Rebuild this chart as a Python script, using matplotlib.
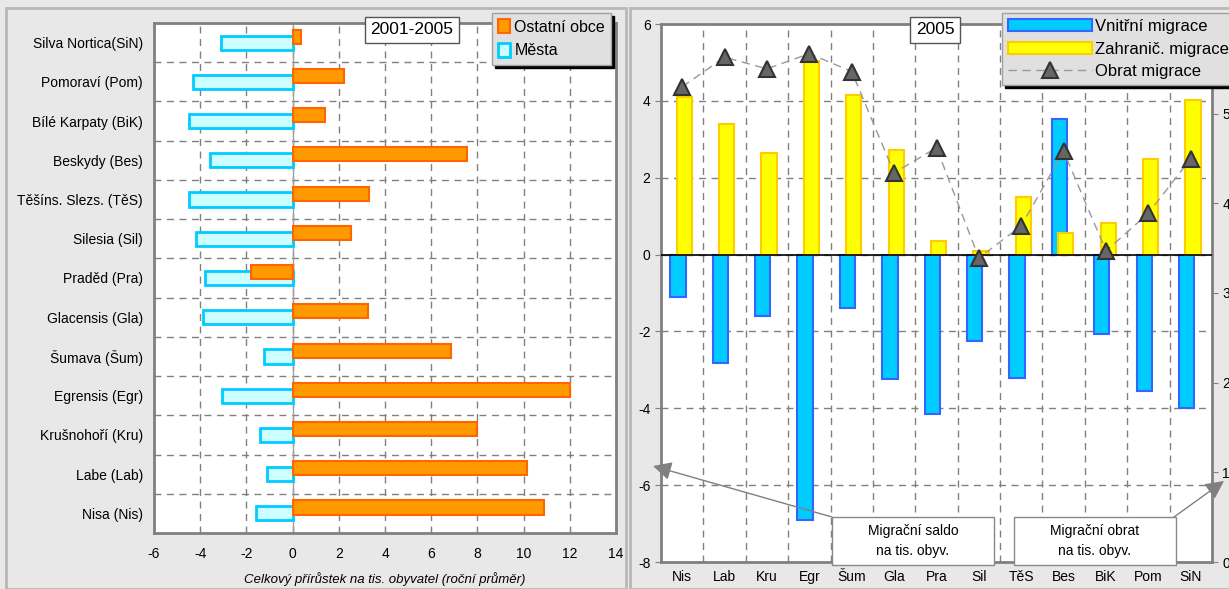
import matplotlib
matplotlib.use("Agg")
import matplotlib.pyplot as plt
from matplotlib.patches import Patch, Rectangle
from matplotlib.lines import Line2D
import numpy as np

plt.rcParams['font.family'] = ['Liberation Sans', 'DejaVu Sans']
plt.rcParams['axes.unicode_minus'] = False

# levy graf - celkovy prirustek 2001-2005
regiony = ['Nisa (Nis)', 'Labe (Lab)', 'Krušnohoří (Kru)', 'Egrensis (Egr)',
           'Šumava (Šum)', 'Glacensis (Gla)', 'Praděd (Pra)', 'Silesia (Sil)',
           'Těšíns. Slezs. (TěS)', 'Beskydy (Bes)', 'Bílé Karpaty (BiK)',
           'Pomoraví (Pom)', 'Silva Nortica(SiN)']
ostatni_obce = [10.9, 10.15, 8.0, 12.0, 6.85, 3.28, -1.8, 2.54, 3.32, 7.54, 1.42, 2.24, 0.35]
mesta = [-1.59, -1.12, -1.42, -3.06, -1.25, -3.88, -3.79, -4.18, -4.48, -3.58, -4.48, -4.31, -3.1]

# pravy graf - migrace 2005
zkratky = ['Nis', 'Lab', 'Kru', 'Egr', 'Šum', 'Gla', 'Pra', 'Sil', 'TěS', 'Bes', 'BiK', 'Pom', 'SiN']
vnitrni = [-1.1, -2.81, -1.59, -6.9, -1.38, -3.23, -4.16, -2.24, -3.2, 3.54, -2.06, -3.56, -4.0]
zahranicni = [4.09, 3.41, 2.65, 5.05, 4.16, 2.72, 0.36, 0.09, 1.51, 0.57, 0.83, 2.48, 4.01]
obrat = [5.3, 5.63, 5.5, 5.67, 5.47, 4.34, 4.62, 3.39, 3.75, 4.58, 3.47, 3.89, 4.5]

W, H = 1229, 589
fig = plt.figure(figsize=(W / 100, H / 100), dpi=100)
fig.patch.set_facecolor('#e8e8e8')

# ramecky panelu
fig.patches.append(Rectangle((6 / W, 0), 620 / W, 1 - 8 / H, transform=fig.transFigure,
                             fill=False, edgecolor='#b8b8b8', lw=2))
fig.patches.append(Rectangle((630 / W, 0), 600 / W, 1 - 8 / H, transform=fig.transFigure,
                             fill=False, edgecolor='#b8b8b8', lw=2))

grid_kw = dict(color='#808080', linestyle=(0, (5, 4)), linewidth=1)

# ---------------- levy graf
ax1 = fig.add_axes([154 / W, 1 - 533 / H, (616 - 154) / W, (533 - 23) / H])
y = np.arange(len(regiony))
ax1.barh(y, mesta, height=0.36, color='#ccffff', edgecolor='#00ccff', linewidth=2, zorder=3)
ax1.barh(y + 0.15, ostatni_obce, height=0.36, color='#ff9900', edgecolor='#ff6600', linewidth=1.5, zorder=4)
ax1.axvline(0, color='#a0a0a0', lw=1, zorder=2)
ax1.set_xlim(-6, 14)
ax1.set_ylim(-0.5, len(regiony) - 0.5)
ax1.set_xticks(np.arange(-6, 15, 2))
ax1.set_yticks(y)
ax1.set_yticklabels(regiony, fontsize=10)
ax1.set_yticks(y[:-1] + 0.5, minor=True)
ax1.tick_params(axis='y', which='both', length=0, pad=8)
ax1.tick_params(axis='x', direction='in', length=4, labelsize=10, pad=10, color='#808080')
ax1.grid(axis='x', which='major', **grid_kw)
ax1.grid(axis='y', which='minor', **grid_kw)
ax1.set_axisbelow(True)
for s in ax1.spines.values():
    s.set_color('#808080')
    s.set_linewidth(2)
ax1.set_xlabel('Celkový přírůstek na tis. obyvatel (roční průměr)', fontsize=9.5, style='italic', labelpad=8)

fig.text(412 / W, 1 - 30 / H, '2001-2005', fontsize=12.5, ha='center', va='center',
         bbox=dict(boxstyle='square,pad=0.3', facecolor='white', edgecolor='#555555', lw=1))

leg1 = fig.legend(handles=[Patch(facecolor='#ff9900', edgecolor='#ff6600', lw=1.5, label='Ostatní obce'),
                           Patch(facecolor='#ccffff', edgecolor='#00ccff', lw=2, label='Města')],
                  loc='upper left', bbox_to_anchor=(484 / W, 1 - 5 / H), fontsize=11.5,
                  handlelength=0.7, handleheight=0.9, handletextpad=0.3, borderpad=0.4,
                  labelspacing=0.55, fancybox=False, framealpha=1, facecolor='#e0e0e0',
                  edgecolor='#a0a0a0', shadow={'color': 'black', 'alpha': 1})

# ---------------- pravy graf
ax2 = fig.add_axes([661 / W, 1 - 562 / H, (1212 - 661) / W, 538 / H])
x = np.arange(len(zkratky))
ax2.bar(x - 0.1, vnitrni, width=0.36, color='#00ccff', edgecolor='#3366ff', linewidth=1.5, zorder=3)
ax2.bar(x + 0.05, zahranicni, width=0.36, color='#ffff00', edgecolor='#ffcc00', linewidth=1.5, zorder=4)
ax2.axhline(0, color='black', lw=1.2, zorder=5)
ax2.set_ylim(-8, 6)
ax2.set_xlim(-0.5, len(zkratky) - 0.5)
ax2.set_yticks(np.arange(-8, 7, 2))
ax2.set_xticks(x)
ax2.set_xticklabels(zkratky, fontsize=10)
ax2.set_xticks(x[:-1] + 0.5, minor=True)
ax2.tick_params(axis='x', which='both', length=0, pad=6)
ax2.tick_params(axis='y', length=4, labelsize=10, color='#808080')
ax2.grid(axis='x', which='minor', **grid_kw)
ax2.grid(axis='y', which='major', **grid_kw)
ax2.set_axisbelow(True)
for s in ax2.spines.values():
    s.set_color('#808080')
    s.set_linewidth(2)

ax3 = ax2.twinx()
ax3.plot(x, obrat, color='#999999', lw=1, linestyle=(0, (6, 4)), marker='^', markersize=11,
         markerfacecolor='#666666', markeredgecolor='#333333', markeredgewidth=1.5, zorder=6)
ax3.set_ylim(0, 6)
ax3.set_yticks(np.arange(0, 7, 1))
ax3.tick_params(axis='y', length=4, labelsize=10, color='#808080')
for s in ax3.spines.values():
    s.set_visible(False)

fig.text(935 / W, 1 - 30 / H, '2005', fontsize=12.5, ha='center', va='center',
         bbox=dict(boxstyle='square,pad=0.3', facecolor='white', edgecolor='#555555', lw=1))

leg2 = fig.legend(handles=[Patch(facecolor='#00ccff', edgecolor='#3366ff', lw=1.5, label='Vnitřní migrace'),
                           Patch(facecolor='#ffff00', edgecolor='#ffcc00', lw=1.5, label='Zahranič. migrace'),
                           Line2D([], [], color='#999999', lw=1, linestyle=(0, (6, 4)), marker='^',
                                  markersize=11, markerfacecolor='#666666', markeredgecolor='#333333',
                                  markeredgewidth=1.5, label='Obrat migrace')],
                  loc='upper left', bbox_to_anchor=(994 / W, 1 - 5 / H), fontsize=12,
                  handlelength=5.0, handleheight=0.75, handletextpad=0.2, borderpad=0.35,
                  labelspacing=0.45, fancybox=False, framealpha=1, facecolor='#e0e0e0',
                  edgecolor='#a0a0a0', shadow={'color': 'black', 'alpha': 1})

# popisky s sipkami
for cx, txt in [(913, 'Migrační saldo\nna tis. obyv.'), (1095, 'Migrační obrat\nna tis. obyv.')]:
    fig.patches.append(Rectangle(((cx - 81) / W, 1 - 565 / H), 162 / W, 48 / H, transform=fig.transFigure,
                                 facecolor='white', edgecolor='#888888', lw=1, zorder=10))
    fig.text(cx / W, 1 - 541 / H, txt, fontsize=10, ha='center', va='center', linespacing=1.6, zorder=11)

arrow_kw = dict(arrowstyle='-|>', color='#808080', lw=1, mutation_scale=28, shrinkA=0, shrinkB=0)
ax2.annotate('', xy=(653 / W, 1 - 466 / H), xycoords='figure fraction',
             xytext=(832 / W, 1 - 517 / H), textcoords='figure fraction',
             arrowprops=arrow_kw, annotation_clip=False)
ax2.annotate('', xy=(1224 / W, 1 - 481 / H), xycoords='figure fraction',
             xytext=(1174 / W, 1 - 517 / H), textcoords='figure fraction',
             arrowprops=arrow_kw, annotation_clip=False)

fig.savefig('out.png', dpi=100, facecolor=fig.get_facecolor())
